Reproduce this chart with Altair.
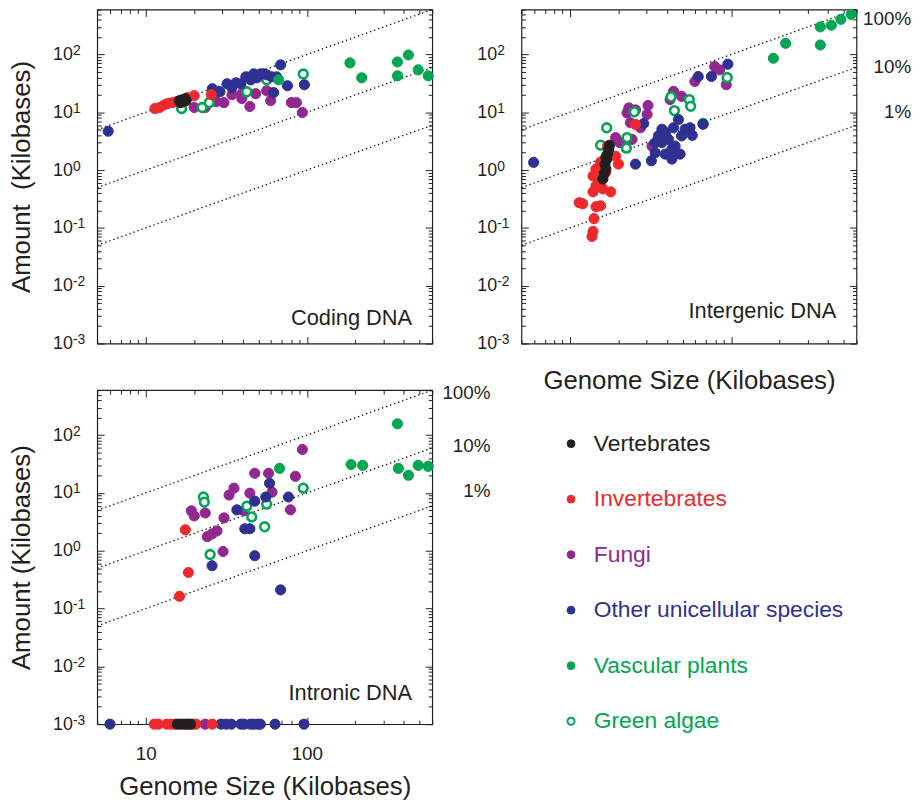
import altair as alt
import pandas as pd

FONT = "Liberation Sans"
INK = "#231F20"

GROUPS = ["Vertebrates", "Invertebrates", "Fungi", "Other unicellular species",
          "Vascular plants", "Green algae"]
STROKE_COLORS = ["#231F20", "#EC2A2E", "#92278F", "#2E3192", "#00A651", "#00A651"]
FILL_COLORS = ["#231F20", "#EC2A2E", "#92278F", "#2E3192", "#00A651", "#FFFFFF"]
DRAW_ORDER = ["Fungi", "Green algae", "Other unicellular species", "Vascular plants",
              "Invertebrates", "Vertebrates"]

# ---------------- Coding DNA: (genome size kb, amount kb) ----------------
CODING_VERTEBRATES = [(16.2, 15.9), (16.9, 16.5), (17.6, 17.1), (17.2, 15.3), (16.5, 14.7), (17.8, 15.9)]
CODING_INVERTEBRATES = [(11.4, 11.6), (12.2, 12.1), (13.0, 13.4), (13.7, 14.2), (14.7, 14.7), (15.6, 15.3),
                        (16.7, 15.9), (18.1, 17.9), (20.0, 19.4), (25.5, 20.2)]
CODING_FUNGI = [(20.0, 12.1), (23.4, 12.1), (26.6, 19.4), (27.4, 15.3), (30.6, 14.7), (34.3, 20.2),
                (39.5, 21.0), (39.5, 17.3), (44.3, 12.6), (48.2, 21.0), (56.3, 23.6), (59.6, 15.9),
                (80.2, 14.7), (86.1, 14.7), (93.8, 9.9)]
CODING_OTHER = [(5.85, 4.7), (25.9, 25.6), (28.9, 22.7), (32.0, 31.2), (34.3, 26.6), (36.3, 32.4),
                (39.0, 31.2), (41.8, 41.1), (44.9, 36.5), (46.8, 46.3), (48.9, 39.5), (51.7, 46.3),
                (54.0, 46.3), (56.3, 44.5), (60.4, 41.1), (64.9, 41.1), (68.7, 66.1), (62.2, 21.9),
                (75.8, 28.8), (96.5, 30.0)]
CODING_VASCULAR = [(66.8, 36.5), (185, 71.4), (219, 39.5), (365, 74.3), (427, 98), (365, 42.8),
                   (491, 54.2), (566, 42.8)]
CODING_ALGAE = [(16.7, 11.6), (22.4, 12.1), (24.8, 14.7), (42.4, 22.7), (56.3, 36.5), (95, 46)]

# ---------------- Intergenic DNA ----------------
INTERGENIC_VERTEBRATES = [(16.0, 0.70), (16.3, 0.86), (16.7, 1.04), (16.5, 1.27), (16.9, 1.55),
                          (17.1, 1.89), (17.4, 2.30), (17.6, 2.69), (16.7, 1.68)]
INTERGENIC_INVERTEBRATES = [(11.4, 0.273), (12.0, 0.262), (13.7, 0.071), (13.9, 0.087), (14.1, 0.145),
                            (14.5, 0.233), (15.5, 0.242), (13.9, 0.421), (14.5, 0.533), (17.9, 0.421),
                            (16.0, 0.474), (13.9, 0.792), (14.5, 1.04), (15.5, 1.38), (20.0, 1.27),
                            (19.2, 1.74), (17.1, 2.59), (25.5, 6.18), (16.7, 0.93), (15.2, 0.68)]
INTERGENIC_FUNGI = [(23.2, 11.9), (30.5, 13.1), (30.1, 9.2), (23.7, 6.6), (27.4, 5.4), (19.2, 3.65),
                    (20.4, 3.0), (24.3, 3.4), (32.3, 2.6), (41.8, 16.6), (43.9, 23.0), (49.3, 18.9),
                    (59.6, 34.1), (79.1, 61.8), (84.9, 54.2), (93.3, 30.0), (22.6, 9.8), (25.5, 11.0)]
INTERGENIC_OTHER = [(5.95, 1.36), (28.7, 6.4), (25.5, 1.27), (32.0, 1.45), (33.8, 2.0), (37.2, 3.0),
                    (39.0, 1.89), (42.9, 1.55), (48.2, 1.89), (40.8, 3.4), (43.9, 5.4), (47.1, 7.5),
                    (51.8, 5.1), (55.6, 5.4), (57.4, 4.0), (49.3, 3.9), (44.9, 2.6), (35.4, 3.9),
                    (42.9, 2.3), (62.5, 41.6), (75.5, 41.6), (95.5, 68.0), (67.0, 6.2), (37.2, 5.1),
                    (39.0, 4.5), (33.8, 3.0)]
INTERGENIC_VASCULAR = [(183, 86), (218, 156), (358, 300), (358, 146), (419, 321), (480, 406), (556, 495)]
INTERGENIC_ALGAE = [(15.5, 2.7), (16.9, 5.4), (22.6, 3.65), (22.4, 2.4), (25.1, 10.2), (42.4, 18.5),
                    (44.5, 10.7), (55.0, 16.6), (56.1, 12.7), (94.6, 40), (67.0, 6.4)]

# ---------------- Intronic DNA (0.001 = no introns) ----------------
INTRONIC_VERTEBRATES = [(15.7, 0.001), (16.5, 0.001), (17.3, 0.001), (18.1, 0.001), (19.0, 0.001)]
INTRONIC_INVERTEBRATES = [(17.6, 2.3), (18.4, 0.42), (16.2, 0.163), (11.3, 0.001), (12.0, 0.001),
                          (13.5, 0.001), (14.3, 0.001), (15.0, 0.001), (18.5, 0.001), (19.8, 0.001),
                          (20.5, 0.001), (25.9, 0.001)]
INTRONIC_FUNGI = [(93.8, 56.4), (47.5, 21.9), (57.9, 21.9), (84.9, 19.4), (60.8, 10.3), (44.3, 9.9),
                  (35.3, 12.1), (32.9, 9.2), (19.2, 4.9), (20.0, 4.0), (23.4, 4.5), (30.6, 3.7),
                  (40.6, 4.9), (79.1, 5.1), (24.1, 1.75), (25.8, 1.96), (27.7, 2.2), (30.2, 0.97),
                  (23.4, 0.001)]
INTRONIC_OTHER = [(58.7, 14.7), (55.6, 8.5), (76.9, 8.5), (47.5, 7.2), (36.8, 5.1), (41.2, 2.4),
                  (44.3, 2.4), (47.5, 0.82), (25.8, 0.55), (68.7, 0.21), (6.0, 0.001), (29.3, 0.001),
                  (31.6, 0.001), (34.0, 0.001), (38.9, 0.001), (40.8, 0.001), (44.7, 0.001),
                  (46.8, 0.001), (49.6, 0.001), (51.4, 0.001), (63.5, 0.001), (96.0, 0.001)]
INTRONIC_VASCULAR = [(365, 157), (188, 31), (222, 30), (370, 26.6), (427, 20.2), (491, 30),
                     (566, 28.8), (67.7, 26.6)]
INTRONIC_ALGAE = [(22.8, 8.5), (23.1, 6.95), (42.4, 5.9), (56.3, 6.4), (45.5, 3.85), (54.7, 2.6),
                  (25.1, 0.86), (95.0, 12.1)]

# reference lines: amount = fraction * genome size
LINE_ENDS = [5, 600]
LINE_FRACTIONS = [1.0, 0.1, 0.01]
PCT_LABELS = ["100%", "10%", "1%"]
PCT_Y_TOP = [415, 61, 10.3]
PCT_Y_BOTTOM = [536, 63.5, 10.7]

Y_MAJOR = [0.001, 0.01, 0.1, 1, 10, 100]
Y_TICKS = Y_MAJOR + [k * 10.0 ** e for e in range(-3, 3) for k in range(2, 10) if k * 10.0 ** e <= 600]
X_TICKS = [10, 100] + [5, 6, 7, 8, 9] + [k * 10 for k in range(2, 10)] + [200, 300, 400, 500, 600]

TICK = 7
IS_MAJOR = "abs(log(datum.value) / LN10 - round(log(datum.value) / LN10)) < 0.000001"
TICK_DASH = {"condition": {"test": "!(" + IS_MAJOR + ")", "value": [0, 3, 4, 0]}, "value": [TICK, 0]}


def major_font(size):
    return {"condition": {"test": IS_MAJOR, "value": size}, "value": 0.1}


def frame_axis(orient, values, **kw):
    base = dict(orient=orient, values=values, tickSize=TICK, offset=-TICK, tickDash=TICK_DASH,
                tickColor=INK, tickWidth=1, domain=False, grid=False, labelOverlap=False,
                labelFlush=False, labelFont=FONT, labelColor=INK, titleFont=FONT,
                titleColor=INK, titleFontWeight="normal")
    base.update(kw)
    return alt.Axis(**base)


def exponent_axis():
    return alt.Axis(orient="left", values=Y_MAJOR, ticks=False, tickSize=0, domain=False, grid=False,
                    labelExpr="'' + round(log(datum.value) / LN10)", labelAlign="left",
                    labelBaseline="middle", labelOffset=-4, labelPadding=25, labelFont=FONT,
                    labelFontSize=14, labelColor=INK, labelOverlap=False, labelFlush=False, title=None)


def points_frame(groups):
    rows = []
    for g in DRAW_ORDER:
        for gx, amt in groups.get(g, []):
            rows.append({"group": g, "gx": gx, "amt": amt})
    return pd.DataFrame(rows)


lines_df = pd.DataFrame([{"frac": f, "gx": x, "amt": x * f} for f in LINE_FRACTIONS for x in LINE_ENDS])
is_algae = alt.datum.group == "Green algae"


def panel(name, groups, label_y, y_title, x_title, x_labels, x_title_pad, pct_x=None, pct_y=None):
    xs = alt.Scale(type="log", domain=[5, 600], nice=False)
    ys = alt.Scale(type="log", domain=[0.001, 600], nice=False)

    bottom_kw = dict(labels=x_labels, title=x_title, titleFontSize=26, titlePadding=x_title_pad)
    if x_labels:
        bottom_kw.update(labelExpr="(" + IS_MAJOR + ") ? '' + round(datum.value) : ''",
                         labelFontSize=major_font(19), labelPadding=21)
    left_kw = dict(labelExpr="(" + IS_MAJOR + ") ? '10' : ''", labelFontSize=major_font(18),
                   labelPadding=25, title=y_title, titleFontSize=26, titlePadding=18)

    lines = alt.Chart(lines_df).mark_line(color="black", strokeDash=[1.3, 3.0], strokeWidth=1.3).encode(
        x=alt.X("gx:Q", scale=xs, axis=frame_axis("bottom", X_TICKS, **bottom_kw)),
        y=alt.Y("amt:Q", scale=ys, axis=frame_axis("left", Y_TICKS, **left_kw)),
        detail="frac:N",
    )
    pts = alt.Chart(points_frame(groups)).mark_point(shape="circle", filled=True, opacity=1).encode(
        x=alt.X("gx:Q", scale=xs, axis=frame_axis("top", X_TICKS, labels=False, title=None)),
        y=alt.Y("amt:Q", scale=ys, axis=frame_axis("right", Y_TICKS, labels=False, title=None)),
        fill=alt.Fill("group:N", scale=alt.Scale(domain=GROUPS, range=FILL_COLORS), legend=None),
        stroke=alt.Stroke("group:N", scale=alt.Scale(domain=GROUPS, range=STROKE_COLORS), legend=None),
        strokeWidth=alt.condition(is_algae, alt.value(2.6), alt.value(1.0)),
        size=alt.condition(is_algae, alt.value(78), alt.value(105)),
    )
    label = alt.Chart(pd.DataFrame({"gx": [450], "amt": [label_y], "text": [name]})).mark_text(
        align="right", baseline="alphabetic", font=FONT, fontSize=22, color=INK
    ).encode(
        x=alt.X("gx:Q", scale=xs, axis=None),
        y=alt.Y("amt:Q", scale=ys, axis=exponent_axis()),
        text="text:N",
    )
    layers = [lines, pts, label]
    if pct_y is not None:
        pct = alt.Chart(pd.DataFrame({"gx": [pct_x] * 3, "amt": pct_y, "text": PCT_LABELS})).mark_text(
            align="right", baseline="middle", font=FONT, fontSize=19, color=INK
        ).encode(
            x=alt.X("gx:Q", scale=xs, axis=None),
            y=alt.Y("amt:Q", scale=ys, axis=None),
            text="text:N",
        )
        layers.append(pct)
    return alt.layer(*layers).resolve_axis(x="independent", y="independent").properties(width=338, height=337)


coding = panel("Coding DNA", {
    "Vertebrates": CODING_VERTEBRATES, "Invertebrates": CODING_INVERTEBRATES, "Fungi": CODING_FUNGI,
    "Other unicellular species": CODING_OTHER, "Vascular plants": CODING_VASCULAR, "Green algae": CODING_ALGAE,
}, 0.0021, "Amount\u00a0 (Kilobases)", None, False, 15)

intergenic = panel("Intergenic DNA", {
    "Vertebrates": INTERGENIC_VERTEBRATES, "Invertebrates": INTERGENIC_INVERTEBRATES,
    "Fungi": INTERGENIC_FUNGI, "Other unicellular species": INTERGENIC_OTHER,
    "Vascular plants": INTERGENIC_VASCULAR, "Green algae": INTERGENIC_ALGAE,
}, 0.0028, None, "Genome Size (Kilobases)", False, 24, pct_x=1310, pct_y=PCT_Y_TOP)

intronic = panel("Intronic DNA", {
    "Vertebrates": INTRONIC_VERTEBRATES, "Invertebrates": INTRONIC_INVERTEBRATES,
    "Fungi": INTRONIC_FUNGI, "Other unicellular species": INTRONIC_OTHER,
    "Vascular plants": INTRONIC_VASCULAR, "Green algae": INTRONIC_ALGAE,
}, 0.0026, "Amount (Kilobases)", "Genome Size (Kilobases)", True, 10, pct_x=1380, pct_y=PCT_Y_BOTTOM)

legend_base = alt.Chart(pd.DataFrame({"group": GROUPS})).encode(
    y=alt.Y("group:N", sort=GROUPS, scale=alt.Scale(domain=GROUPS, padding=0.964), axis=None)
)
legend_dots = legend_base.mark_point(shape="circle", filled=True, opacity=1).encode(
    fill=alt.Fill("group:N", scale=alt.Scale(domain=GROUPS, range=FILL_COLORS), legend=None),
    stroke=alt.Stroke("group:N", scale=alt.Scale(domain=GROUPS, range=STROKE_COLORS), legend=None),
    strokeWidth=alt.condition(is_algae, alt.value(2.0), alt.value(1.0)),
    size=alt.condition(is_algae, alt.value(50), alt.value(62)),
)
legend_text = legend_base.mark_text(align="left", baseline="middle", dx=23, font=FONT, fontSize=23).encode(
    text="group:N",
    color=alt.Color("group:N", scale=alt.Scale(domain=GROUPS, range=STROKE_COLORS), legend=None),
)
legend = alt.layer(legend_dots, legend_text).properties(
    width=100, height=388, view=alt.ViewBackground(stroke="transparent")
)

chart = alt.concat(
    coding, intergenic, intronic, legend,
    columns=2, spacing={"row": 47, "column": 90}, bounds="flush", align="each",
).properties(
    padding={"left": 0, "right": 0, "top": -6, "bottom": 0}
).configure_view(stroke=INK, strokeWidth=1.2)

chart.save("out.html", embed_options={"renderer": "svg", "actions": False})
